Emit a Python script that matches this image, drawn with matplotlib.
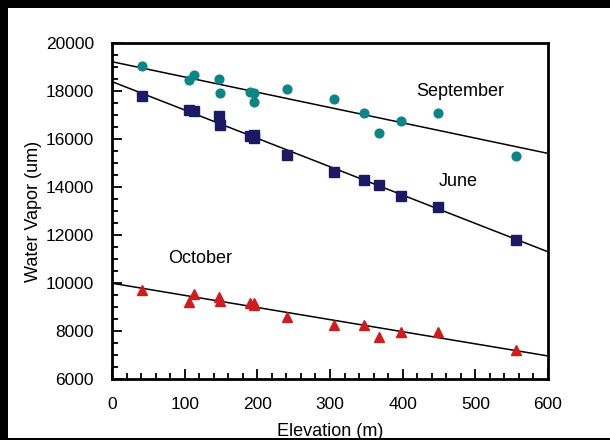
import matplotlib
matplotlib.use("Agg")
import matplotlib.pyplot as plt
from matplotlib.patches import Rectangle
from matplotlib.ticker import MultipleLocator

plt.rcParams['font.family'] = ['Liberation Sans', 'DejaVu Sans']

# elevation (m) of the sampling sites
elev = [41, 106, 113, 147, 149, 190, 195, 196, 241, 305, 347, 367, 398, 448, 556]

sept = [19050, 18460, 18650, 18510, 17900, 17970, 17930, 17530, 18070,
        17650, 17070, 16240, 16750, 17070, 15300]
june = [17800, 17210, 17180, 16970, 16570, 16130, 16170, 16030, 15320,
        14610, 14290, 14070, 13630, 13180, 11790]
octo = [9710, 9210, 9540, 9430, 9240, 9150, 9180, 9070, 8600,
        8250, 8250, 7760, 7970, 7970, 7210]

# trend lines, value at elevation 0 and 600
trend_x = [0, 600]
sept_fit = [19220, 15400]
june_fit = [18390, 11300]
octo_fit = [9990, 6960]

fig = plt.figure(figsize=(6.1, 4.4), dpi=100, facecolor='black')
bg = Rectangle((8/610, 2/440), 602/610, 430/440, transform=fig.transFigure,
               facecolor='white', edgecolor='none', zorder=-10)
fig.add_artist(bg)

ax = fig.add_axes([112/610, 61/440, 436/610, 336/440])
ax.set_zorder(1)

ax.plot(trend_x, sept_fit, color='black', lw=1.1, zorder=2)
ax.plot(trend_x, june_fit, color='black', lw=1.1, zorder=2)
ax.plot(trend_x, octo_fit, color='black', lw=1.1, zorder=2)

ax.plot(elev, sept, 'o', color='#0b8585', ms=6.3, mec='#0b8585', zorder=3)
ax.plot(elev, june, 's', color='#1c1a64', ms=6.5, mec='#1c1a64', zorder=3)
ax.plot(elev, octo, '^', color='#d01c1c', ms=7, mec='#d01c1c', zorder=3)

ax.text(479, 17970, 'September', ha='center', va='center', fontsize=13)
ax.text(477, 14220, 'June', ha='center', va='center', fontsize=13)
ax.text(121, 11030, 'October', ha='center', va='center', fontsize=13)

ax.set_xlim(0, 600)
ax.set_ylim(6000, 20000)
ax.xaxis.set_major_locator(MultipleLocator(100))
ax.xaxis.set_minor_locator(MultipleLocator(20))
ax.yaxis.set_major_locator(MultipleLocator(2000))
ax.yaxis.set_minor_locator(MultipleLocator(500))
ax.tick_params(which='both', direction='in', width=1.3, labelsize=12.5)
ax.tick_params(which='major', length=7)
ax.tick_params(which='minor', length=4)
ax.tick_params(axis='x', which='major', pad=13)
ax.tick_params(axis='y', which='major', pad=13)

for s in ax.spines.values():
    s.set_linewidth(2)

ax.set_xlabel('Elevation (m)', fontsize=13, labelpad=8)
ax.set_ylabel('Water Vapor (um)', fontsize=13, labelpad=3)

fig.savefig('out.png', dpi=100, facecolor='black')
